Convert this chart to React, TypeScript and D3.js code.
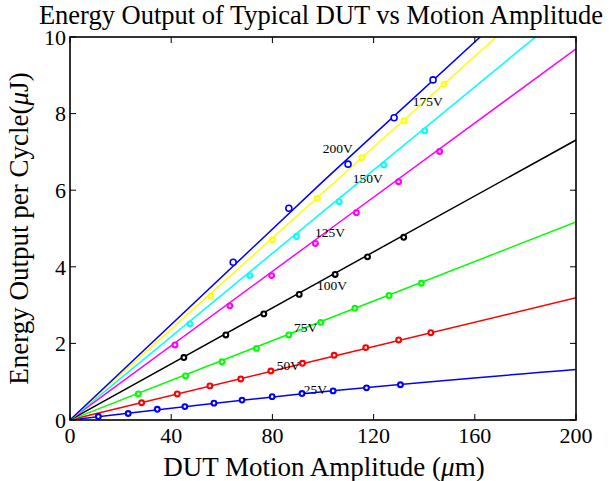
import React from 'react';
import * as d3 from 'd3';

// series names and colours (MATLAB default-ish)
const voltages = ['25V', '50V', '75V', '100V', '125V', '150V', '175V', '200V'];
const colors = ['#0000ff', '#ff0000', '#00ff00', '#000000', '#ff00ff', '#00ffff', '#ffff00', '#0000ff'];

// measured points: amplitude (um) / energy (uJ)
const amp25 = [11.2, 23.0, 34.5, 45.4, 56.9, 68.0, 79.9, 91.7, 104.0, 117.2, 130.6];
const en25 = [0.09, 0.17, 0.28, 0.35, 0.44, 0.52, 0.61, 0.69, 0.76, 0.84, 0.92];
const amp50 = [28.3, 42.4, 55.3, 67.5, 79.4, 91.9, 104.4, 116.9, 129.9, 142.6];
const en50 = [0.45, 0.68, 0.89, 1.07, 1.28, 1.48, 1.69, 1.89, 2.09, 2.28];
const amp75 = [27.0, 45.7, 60.1, 73.7, 86.5, 99.1, 112.6, 126.1, 138.9];
const en75 = [0.68, 1.15, 1.52, 1.87, 2.22, 2.55, 2.92, 3.25, 3.57];
const amp100 = [45.0, 61.6, 76.6, 90.6, 104.8, 117.6, 131.9];
const en100 = [1.63, 2.22, 2.77, 3.28, 3.80, 4.26, 4.77];
const amp125 = [41.5, 63.2, 79.7, 97.0, 113.2, 129.9, 146.1];
const en125 = [1.96, 2.98, 3.77, 4.61, 5.41, 6.22, 7.01];
const amp150 = [47.4, 71.1, 89.5, 106.4, 124.0, 140.2];
const en150 = [2.51, 3.77, 4.79, 5.70, 6.66, 7.55];
const amp175 = [55.6, 79.9, 97.8, 115.4, 132.0, 147.8];
const en175 = [3.24, 4.70, 5.79, 6.85, 7.81, 8.77];
const amp200 = [64.5, 86.5, 109.9, 128.1, 143.5];
const en200 = [4.12, 5.53, 6.68, 7.89, 8.88];

// fitted line values at 0, 100 and 200 um
const fitX = [0, 100, 200];
const fitAt100 = [0.74, 1.6, 2.59, 3.66, 4.85, 5.44, 5.94, 6.23];
const fitAt200 = [1.32, 3.19, 5.17, 7.31, 9.69, 10.87, 11.87, 12.3];

// label anchor positions in data units
const labelX = [92.4, 81.7, 88.5, 97.6, 96.8, 111.8, 135.5, 99.9];
const labelY = [0.68, 1.31, 2.3, 3.39, 4.78, 6.19, 8.2, 6.97];

const xTicks = [0, 40, 80, 120, 160, 200];
const yTicks = [0, 2, 4, 6, 8, 10];

const amps = [amp25, amp50, amp75, amp100, amp125, amp150, amp175, amp200];
const ens = [en25, en50, en75, en100, en125, en150, en175, en200];

const W = 616;
const H = 481;
const left = 70, right = 576, top = 37, bottom = 420;
const font = "'Liberation Serif', 'Times New Roman', serif";

export default function App() {
  const x = d3.scaleLinear().domain([0, 200]).range([left, right]);
  const y = d3.scaleLinear().domain([0, 10]).range([bottom, top]);

  const line = d3.line<number[]>()
    .x((d) => x(d[0]))
    .y((d) => y(d[1]))
    .curve(d3.curveMonotoneX);

  const series = voltages.map((v, i) => ({
    name: v,
    color: colors[i],
    pts: amps[i].map((a, j) => [a, ens[i][j]]),
    fit: fitX.map((fx, k) => [fx, [0, fitAt100[i], fitAt200[i]][k]]),
    label: [labelX[i], labelY[i]],
  }));

  const tickLen = 6;

  return (
    <svg width={W} height={H} style={{ position: 'absolute', left: 0, top: 0, background: '#fff' }}>
      <defs>
        <clipPath id="plotArea">
          <rect x={left} y={top} width={right - left} height={bottom - top} />
        </clipPath>
      </defs>
      <rect width={W} height={H} fill="#fff" />

      {/* fitted lines */}
      <g clipPath="url(#plotArea)">
        {series.map((s, i) => (
          <path key={i} d={line(s.fit) || ''} fill="none" stroke={s.color} strokeWidth={1.5} />
        ))}
      </g>

      {/* data markers */}
      {series.map((s, i) => (
        <g key={i}>
          {s.pts.map((p, j) => (
            <circle key={j} cx={x(p[0])} cy={y(p[1])} r={i === 7 ? 3 : 2.4}
              fill="#fff" stroke={s.color} strokeWidth={i === 7 ? 1.6 : 2.1} />
          ))}
        </g>
      ))}

      {/* voltage labels */}
      {series.map((s, i) => (
        <text key={i} x={x(s.label[0])} y={y(s.label[1])} fontFamily={font} fontSize={13.5} fill="#000">{s.name}</text>
      ))}

      {/* axes box + ticks */}
      <rect x={left} y={top} width={right - left} height={bottom - top} fill="none" stroke="#000" strokeWidth={1.6} />
      {xTicks.map((t) => (
        <g key={'x' + t}>
          <line x1={x(t)} x2={x(t)} y1={bottom} y2={bottom - tickLen} stroke="#000" strokeWidth={1} />
          <line x1={x(t)} x2={x(t)} y1={top} y2={top + tickLen} stroke="#000" strokeWidth={1} />
          <text x={x(t)} y={bottom + 23} textAnchor="middle" fontFamily={font} fontSize={22}>{t}</text>
        </g>
      ))}
      {yTicks.map((t) => (
        <g key={'y' + t}>
          <line x1={left} x2={left + tickLen} y1={y(t)} y2={y(t)} stroke="#000" strokeWidth={1} />
          <line x1={right} x2={right - tickLen} y1={y(t)} y2={y(t)} stroke="#000" strokeWidth={1} />
          <text x={left - 4} y={y(t)} dy="0.35em" textAnchor="end" fontFamily={font} fontSize={22}>{t}</text>
        </g>
      ))}

      {/* titles */}
      <text x={321} y={24} textAnchor="middle" fontFamily={font} fontSize={26.5}>Energy Output of Typical DUT vs Motion Amplitude</text>
      <text x={324} y={476} textAnchor="middle" fontFamily={font} fontSize={27}>
        DUT Motion Amplitude (<tspan fontStyle="italic">μ</tspan>m)
      </text>
      <text transform={`translate(28,${(top + bottom) / 2}) rotate(-90)`} textAnchor="middle" fontFamily={font} fontSize={27}>
        Energy Output per Cycle(<tspan fontStyle="italic">μ</tspan>J)
      </text>
    </svg>
  );
}
